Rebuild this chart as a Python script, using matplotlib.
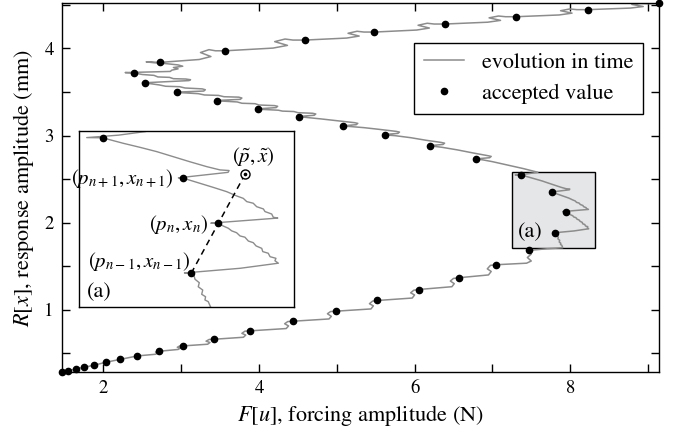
import matplotlib
matplotlib.use("Agg")
import matplotlib.pyplot as plt
from matplotlib.lines import Line2D
from matplotlib.patches import Rectangle

# ---------------- data ----------------
acc_F = [1.468, 1.550, 1.644, 1.746, 1.875, 2.030, 2.219, 2.438, 2.712, 3.026,
         3.420, 3.888, 4.436, 4.986, 5.523, 6.054, 6.569, 7.045, 7.474, 7.808,
         7.942, 7.770, 7.371, 6.795, 6.196, 5.616, 5.080, 4.510, 3.991, 3.463,
         2.943, 2.532, 2.395, 2.730, 3.566, 4.591, 5.484, 6.389, 7.307, 8.225, 9.140]
acc_R = [0.287, 0.302, 0.322, 0.340, 0.363, 0.398, 0.432, 0.471, 0.524, 0.586,
         0.662, 0.759, 0.869, 0.984, 1.107, 1.233, 1.368, 1.517, 1.682, 1.880,
         2.126, 2.348, 2.547, 2.728, 2.880, 3.007, 3.107, 3.214, 3.302, 3.398,
         3.494, 3.601, 3.716, 3.839, 3.972, 4.095, 4.187, 4.279, 4.363, 4.444, 4.515]

trace_F = [
    1.468, 1.550, 1.644, 1.746, 1.875, 2.030, 2.219, 2.438,
    2.67, 2.69, 2.67, 2.712,
    2.96, 2.99, 2.95, 2.98, 3.026,
    3.34, 3.37, 3.32, 3.36, 3.42,
    3.80, 3.83, 3.78, 3.82, 3.888,
    4.35, 4.38, 4.33, 4.37, 4.436,
    4.90, 4.93, 4.88, 4.92, 4.986,
    5.44, 5.47, 5.42, 5.46, 5.523,
    5.97, 6.00, 5.95, 5.99, 6.054,
    6.48, 6.51, 6.46, 6.50, 6.569,
    6.95, 6.985, 6.935, 6.975, 7.045,
    7.44, 7.50, 7.45, 7.50, 7.46, 7.474,
    7.70, 7.905,
    7.892, 7.876, 7.879, 7.860, 7.865, 7.843, 7.848, 7.827, 7.822, 7.808,
    7.775, 8.05, 8.238,
    8.221, 8.226, 8.197, 8.188, 8.161, 8.156, 8.128, 8.114, 8.090, 8.073,
    8.049, 8.032, 8.008, 7.991, 7.966, 7.942,
    7.905, 8.08, 8.235,
    8.213, 8.205, 8.172, 8.164, 8.131, 8.114, 8.082, 8.065, 8.032, 7.983,
    7.917, 7.852, 7.786, 7.770,
    7.745, 7.88, 7.99, 7.995,
    7.950, 7.885, 7.802, 7.720, 7.638, 7.556, 7.473, 7.371,
    7.293, 7.45, 7.585,
    7.40, 7.20, 7.00, 6.88, 6.795,
    6.775, 6.965, 6.985, 6.945,
    6.75, 6.55, 6.35, 6.24, 6.196,
    6.176, 6.366, 6.386, 6.346,
    6.15, 5.95, 5.75, 5.66, 5.616,
    5.596, 5.786, 5.806, 5.766,
    5.55, 5.35, 5.16, 5.080,
    5.06, 5.25, 5.27, 5.23,
    5.0, 4.8, 4.58, 4.510,
    4.49, 4.71, 4.73, 4.69,
    4.50, 4.45, 4.30, 4.25, 4.06, 3.991,
    3.97, 4.22, 4.24, 4.20,
    4.00, 3.95, 3.78, 3.72, 3.53, 3.463,
    3.44, 3.76, 3.78, 3.74,
    3.55, 3.48, 3.30, 3.22, 3.02, 2.943,
    2.92, 3.29, 3.31, 3.27,
    3.05, 2.98, 2.80, 2.72, 2.60, 2.532,
    2.50, 3.10, 3.12, 3.06,
    2.90, 2.85, 2.70, 2.65, 2.50, 2.43, 2.395,
    2.28, 2.86,
    2.88, 2.96, 2.90, 3.02, 2.96, 2.80, 2.65, 2.55, 2.730,
    3.232, 3.382, 3.248, 3.357, 3.441, 3.566,
    4.181, 4.366, 4.202, 4.335, 4.437, 4.591,
    5.127, 5.288, 5.145, 5.261, 5.350, 5.484,
    6.027, 6.190, 6.045, 6.163, 6.253, 6.389,
    6.940, 7.105, 6.958, 7.078, 7.169, 7.307,
    7.858, 8.024, 7.877, 7.996, 8.087, 8.225,
    8.774, 8.939, 8.793, 8.911, 9.003, 9.140]
trace_R = [
    0.287, 0.302, 0.322, 0.340, 0.363, 0.398, 0.432, 0.471,
    0.49, 0.50, 0.515, 0.524,
    0.545, 0.56, 0.57, 0.585, 0.586,
    0.605, 0.625, 0.64, 0.66, 0.662,
    0.685, 0.71, 0.73, 0.755, 0.759,
    0.785, 0.815, 0.84, 0.865, 0.869,
    0.895, 0.925, 0.955, 0.98, 0.984,
    1.01, 1.045, 1.07, 1.10, 1.107,
    1.135, 1.17, 1.195, 1.225, 1.233,
    1.265, 1.30, 1.33, 1.36, 1.368,
    1.40, 1.44, 1.47, 1.51, 1.517,
    1.535, 1.56, 1.60, 1.64, 1.67, 1.682,
    1.70, 1.712,
    1.741, 1.749, 1.765, 1.777, 1.798, 1.814, 1.834, 1.851, 1.869, 1.880,
    1.882, 1.905, 1.930,
    1.942, 1.954, 1.962, 1.979, 1.987, 2.003, 2.015, 2.031, 2.039, 2.058,
    2.064, 2.080, 2.089, 2.102, 2.113, 2.126,
    2.127, 2.14, 2.152,
    2.156, 2.172, 2.184, 2.197, 2.208, 2.225, 2.233, 2.249, 2.261, 2.282,
    2.303, 2.323, 2.343, 2.348,
    2.350, 2.365, 2.377, 2.386,
    2.389, 2.405, 2.429, 2.454, 2.479, 2.500, 2.520, 2.547,
    2.548, 2.56, 2.578,
    2.62, 2.66, 2.70, 2.72, 2.728,
    2.731, 2.745, 2.76, 2.768,
    2.80, 2.835, 2.865, 2.877, 2.880,
    2.883, 2.897, 2.912, 2.92,
    2.945, 2.975, 2.998, 3.004, 3.007,
    3.01, 3.024, 3.039, 3.047,
    3.07, 3.09, 3.104, 3.107,
    3.11, 3.124, 3.139, 3.147,
    3.17, 3.19, 3.21, 3.214,
    3.217, 3.232, 3.247, 3.255,
    3.262, 3.275, 3.28, 3.29, 3.298, 3.302,
    3.305, 3.32, 3.335, 3.343,
    3.35, 3.365, 3.37, 3.385, 3.394, 3.398,
    3.401, 3.415, 3.43, 3.44,
    3.445, 3.46, 3.465, 3.48, 3.49, 3.494,
    3.497, 3.51, 3.525, 3.535,
    3.545, 3.56, 3.565, 3.58, 3.595, 3.601,
    3.604, 3.63, 3.64, 3.648,
    3.652, 3.667, 3.672, 3.69, 3.70, 3.712, 3.716,
    3.722, 3.735,
    3.75, 3.765, 3.78, 3.795, 3.81, 3.825, 3.835, 3.845, 3.839,
    3.872, 3.906, 3.952, 3.985, 3.972, 3.972,
    4.003, 4.034, 4.077, 4.107, 4.095, 4.095,
    4.118, 4.141, 4.173, 4.196, 4.187, 4.187,
    4.210, 4.233, 4.265, 4.288, 4.279, 4.279,
    4.300, 4.321, 4.350, 4.371, 4.363, 4.363,
    4.383, 4.404, 4.432, 4.452, 4.444, 4.444,
    4.462, 4.480, 4.504, 4.515, 4.512, 4.515]

# zoom region (a) and predictor point
box_F = [7.255, 8.315]
box_R = [1.713, 2.582]
idx_prev, idx_n, idx_next = 19, 20, 21   # p_{n-1}, p_n, p_{n+1}
p_tilde = (8.075, 2.370)

x_major = [2, 4, 6, 8]
x_minor = [3, 5, 7, 9]
y_major = [1, 2, 3, 4]
y_minor = [0.5, 1.5, 2.5, 3.5, 4.5]

# ---------------- styling ----------------
plt.rcParams['font.family'] = ['STIXGeneral', 'DejaVu Serif']
plt.rcParams['mathtext.fontset'] = 'stix'

GRAY = '#8c8c8c'

fig = plt.figure(figsize=(6.74, 4.33), dpi=100)
ax = fig.add_axes([0.092, 0.141, 0.8855, 0.851])

ax.add_patch(Rectangle((box_F[0], box_R[0]), box_F[1] - box_F[0], box_R[1] - box_R[0],
                       facecolor='#e5e6e8', edgecolor='black', lw=1.0, zorder=1))
ax.plot(trace_F, trace_R, color=GRAY, lw=1.1, zorder=2)
ax.plot(acc_F, acc_R, 'o', color='black', ms=4.5, zorder=3, clip_on=False)
ax.text(box_F[0] + 0.07, 1.83, '(a)', fontsize=16, ha='left', va='baseline', zorder=4)

ax.set_xlim(acc_F[0], acc_F[-1])
ax.set_ylim(acc_R[0], acc_R[-1])
ax.set_xticks(x_major)
ax.set_xticks(x_minor, minor=True)
ax.set_yticks(y_major)
ax.set_yticks(y_minor, minor=True)
ax.tick_params(which='both', direction='in', top=True, right=True, length=6,
               width=1.0, labelsize=13.5, pad=6)
for s in ax.spines.values():
    s.set_linewidth(1.0)
ax.set_xlabel(r'$F[u]$, forcing amplitude (N)', fontsize=16, labelpad=4)
ax.set_ylabel(r'$R[x]$, response amplitude (mm)', fontsize=16, labelpad=6)

handles = [Line2D([], [], color=GRAY, lw=1.1),
           Line2D([], [], marker='o', ls='none', color='black', ms=4.5)]
leg = ax.legend(handles, ['evolution in time', 'accepted value'], loc='upper right',
                bbox_to_anchor=(0.974, 0.894), borderaxespad=0, fontsize=16,
                fancybox=False, framealpha=1, edgecolor='black', handlelength=1.8,
                labelspacing=0.45, borderpad=0.45, handletextpad=0.8)
leg.get_frame().set_linewidth(1.0)

# ---------------- inset (a) ----------------
ins = fig.add_axes([0.1172, 0.2903, 0.319, 0.4079])
ins.set_facecolor('white')
ins.plot(trace_F, trace_R, color=GRAY, lw=1.0, zorder=2)
ins.plot([acc_F[idx_prev], p_tilde[0]], [acc_R[idx_prev], p_tilde[1]],
         color='black', lw=1.1, ls=(0, (4, 3)), zorder=3)
ins.plot(acc_F, acc_R, 'o', color='black', ms=4.5, zorder=4)
ins.plot([p_tilde[0]], [p_tilde[1]], 'o', mfc='white', mec='black', mew=1.0, ms=6.5, zorder=5)
ins.plot([p_tilde[0]], [p_tilde[1]], 'o', color='black', ms=1.6, zorder=6)
ins.set_xlim(box_F)
ins.set_ylim(box_R)
ins.set_xticks([])
ins.set_yticks([])
for s in ins.spines.values():
    s.set_linewidth(1.0)

ins.text(acc_F[idx_next] - 0.05, acc_R[idx_next], r'$(p_{n+1},x_{n+1})$', fontsize=15,
         ha='right', va='center')
ins.text(acc_F[idx_n] - 0.05, acc_R[idx_n] - 0.005, r'$(p_{n},x_{n})$', fontsize=15,
         ha='right', va='center')
ins.text(acc_F[idx_prev] - 0.005, acc_R[idx_prev] + 0.06, r'$(p_{n-1},x_{n-1})$', fontsize=15,
         ha='right', va='center')
ins.text(p_tilde[0] + 0.04, p_tilde[1] + 0.028, r'$(\tilde{p},\tilde{x})$', fontsize=15,
         ha='center', va='bottom')
ins.text(0.036, 0.06, '(a)', transform=ins.transAxes, fontsize=16, ha='left', va='baseline')

fig.savefig('out.png', dpi=100)
